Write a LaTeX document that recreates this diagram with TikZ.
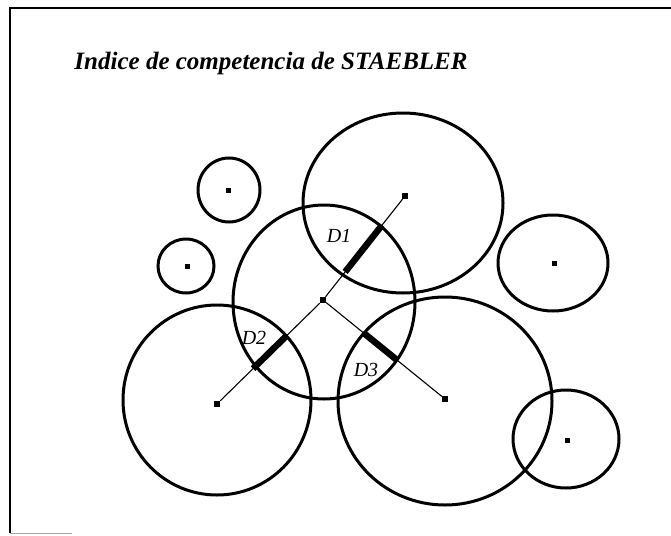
\documentclass[tikz,border=0pt]{standalone}
\usepackage{fontspec}
\setmainfont{Liberation Serif}
\usetikzlibrary{calc}

\begin{document}
\begin{tikzpicture}[x=1pt,y=-1pt,
    ring/.style={line width=3pt},
    ray/.style={line width=1.1pt},
    band/.style={line width=6.5pt},
    dot/.style={fill,inner sep=0pt,minimum size=6pt},
    tag/.style={font=\itshape\fontsize{20}{20}\selectfont}]
  \useasboundingbox (0,0) rectangle (671,535);
  % cadre
  \draw[line width=1.6pt] (10,533) -- (10,8) -- (671,8);
  \draw[black!35,line width=0.8pt] (10,533) -- (72,533);
  \node[font=\bfseries\itshape\fontsize{25}{25}\selectfont] (titre) at (271,63) {Indice de competencia de STAEBLER};
  % cercles
  \foreach \cx/\cy/\rx/\ry in {403/203/100/90, 324/302/91/97, 217/400/94/95,
      445/401/107/104, 553/263/55/48, 566/439/53/49, 229/190/31/32, 186/266/28/27}{
    \draw[ring] (\cx,\cy) ellipse [x radius=\rx, y radius=\ry];
  }
  % centres
  \node[dot] (dC) at (323,300) {};
  \node[dot] (dT) at (405,196) {};
  \node[dot] (dL) at (217,404) {};
  \node[dot] (dR) at (445,399) {};
  \node[dot,minimum size=5pt] (dE) at (554,263) {};
  \node[dot,minimum size=5pt] (dF) at (567,440) {};
  \node[dot,minimum size=5pt] (dG) at (228,190) {};
  \node[dot,minimum size=5pt] (dH) at (187,266) {};
  % distances
  \draw[ray] (dC) -- (dT);
  \draw[ray] (dC) -- (dL);
  \draw[ray] (dC) -- (dR);
  \draw[band] ($(dC)!0.27!(dT)$) -- ($(dC)!0.72!(dT)$);
  \draw[band] ($(dC)!0.34!(dL)$) -- ($(dC)!0.66!(dL)$);
  \draw[band] ($(dC)!0.33!(dR)$) -- ($(dC)!0.61!(dR)$);
  \node[tag] (d1) at (339,236) {D1};
  \node[tag] (d2) at (254,338) {D2};
  \node[tag] (d3) at (366,370) {D3};
\end{tikzpicture}
\end{document}
